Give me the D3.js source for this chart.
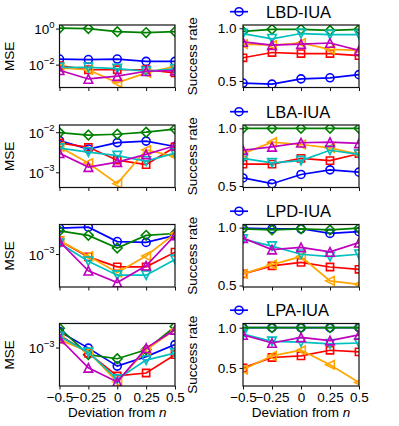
<!DOCTYPE html>
<html>
<head>
<meta charset="utf-8">
<script src="https://cdn.jsdelivr.net/npm/d3@7"></script>
<style>
  body { margin: 0; background: #fff; }
  text { font-family: Arial, "Liberation Sans", sans-serif; fill: #000; }
</style>
</head>
<body>
<div id="vis"></div>
<script>
// x positions (deviation from n) and tick labels
const deviations = [-0.5, -0.25, 0, 0.25, 0.5]
const xTickLabels = ["\u22120.5", "\u22120.25", "0", "0.25", "0.5"]

const methods = ["LBD-IUA", "LBA-IUA", "LPD-IUA", "LPA-IUA"]

// series order: blue circle, green diamond, red square, orange tri-left, cyan tri-down, magenta tri-up
const seriesColors = ["#0000ff", "#008000", "#ff0000", "#ffa500", "#00bfbf", "#bf00bf"]
const seriesMarkers = ["circle", "diamond", "square", "triLeft", "triDown", "triUp"]

// MSE values per method (one array per series, same order as above)
const mseLBD = [
    [0.0204, 0.0191, 0.0204, 0.0151, 0.0151],
    [1.05, 1.0, 0.676, 0.603, 0.676],
    [0.0089, 0.0052, 0.0052, 0.0052, 0.0035],
    [0.0066, 0.0052, 0.00098, 0.0035, 0.0081],
    [0.0071, 0.0071, 0.0060, 0.0043, 0.0058],
    [0.0049, 0.0016, 0.0023, 0.0043, 0.0047]
]
const mseLBA = [
    [0.0062, 0.0038, 0.0055, 0.0060, 0.0044],
    [0.0098, 0.0085, 0.0089, 0.0100, 0.0120],
    [0.0054, 0.0042, 0.0020, 0.00155, 0.0043],
    [0.0043, 0.0017, 0.00052, 0.0036, 0.0025],
    [0.0040, 0.0032, 0.0026, 0.0019, 0.0030],
    [0.0030, 0.00135, 0.0018, 0.0028, 0.0046]
]
const mseLPD = [
    [0.00195, 0.0020, 0.00138, 0.00135, 0.00162],
    [0.00182, 0.00162, 0.00117, 0.00162, 0.0017],
    [0.00141, 0.00093, 0.00072, 0.00072, 0.00105],
    [0.00141, 0.00095, 0.00062, 0.00095, 0.0017],
    [0.00132, 0.00083, 0.00058, 0.00058, 0.00087],
    [0.00138, 0.00065, 0.00048, 0.00074, 0.00162]
]
const mseLPA = [
    [0.0017, 0.00098, 0.00054, 0.00074, 0.0011],
    [0.0019, 0.00079, 0.00069, 0.00093, 0.0020],
    [0.0015, 0.00083, 0.00039, 0.00043, 0.00079],
    [0.0013, 0.00087, 0.00032, 0.00093, 0.0018],
    [0.00145, 0.00085, 0.00035, 0.00066, 0.00083],
    [0.00135, 0.00051, 0.00032, 0.00098, 0.0018]
]

// success rates per method
const succLBD = [
    [0.48, 0.47, 0.52, 0.53, 0.56],
    [0.97, 0.99, 0.99, 0.98, 0.99],
    [0.72, 0.77, 0.76, 0.76, 0.74],
    [0.85, 0.84, 0.86, 0.80, 0.79],
    [0.95, 0.90, 0.95, 0.94, 0.94],
    [0.87, 0.84, 0.85, 0.86, 0.79]
]
const succLBA = [
    [0.57, 0.52, 0.60, 0.64, 0.62],
    [1.0, 1.0, 1.0, 1.0, 1.0],
    [0.69, 0.69, 0.74, 0.72, 0.78],
    [0.78, 0.88, 0.86, 0.83, 0.775],
    [0.74, 0.70, 0.72, 0.81, 0.775],
    [0.81, 0.84, 0.875, 0.88, 0.87]
]
const succLPD = [
    [0.995, 0.99, 0.99, 0.95, 0.965],
    [0.99, 0.98, 0.99, 0.98, 0.995],
    [0.60, 0.67, 0.70, 0.66, 0.64],
    [0.60, 0.68, 0.75, 0.54, 0.51],
    [0.90, 0.84, 0.77, 0.75, 0.77],
    [0.91, 0.81, 0.83, 0.79, 0.87]
]
const succLPA = [
    [1.0, 1.0, 1.0, 1.0, 1.0],
    [1.0, 1.0, 1.0, 1.0, 1.0],
    [0.50, 0.63, 0.65, 0.72, 0.70],
    [0.48, 0.65, 0.72, 0.54, 0.32],
    [0.92, 0.83, 0.82, 0.80, 0.81],
    [0.91, 0.81, 0.88, 0.84, 0.91]
]

const mseData = [mseLBD, mseLBA, mseLPD, mseLPA]
const succData = [succLBD, succLBA, succLPD, succLPA]

// axis settings (domains)
const mseDomains = [[-3.27, 0.2], [-3.38, -1.82], [-3.369, -2.669], [-3.554, -2.654]]
const mseTicks = [[-2, 0], [-3, -2], [-3], [-3]]
const succDomains = [[0.438, 1.031], [0.487, 1.029], [0.487, 1.027], [0.276, 1.052]]
const succTicks = [0.5, 1.0]

// layout
const W = 399, H = 426
const rowTops = [25, 125, 224.5, 323.5]
const plotH = 62.5
const leftX = [59.5, 175]
const rightX = [243, 359]

const svg = d3.select("#vis").append("svg")
    .attr("width", W)
    .attr("height", H)

function markerPath(shape) {
    const p = d3.path()
    if (shape === "circle") {
        p.moveTo(4, 0); p.arc(0, 0, 4, 0, 2 * Math.PI)
    } else if (shape === "square") {
        p.rect(-3.6, -3.6, 7.2, 7.2)
    } else if (shape === "diamond") {
        p.moveTo(0, -4.8); p.lineTo(4.8, 0); p.lineTo(0, 4.8); p.lineTo(-4.8, 0); p.closePath()
    } else if (shape === "triDown") {
        p.moveTo(0, 4.3); p.lineTo(-4.3, -4.3); p.lineTo(4.3, -4.3); p.closePath()
    } else if (shape === "triUp") {
        p.moveTo(0, -4.3); p.lineTo(-4.3, 4.3); p.lineTo(4.3, 4.3); p.closePath()
    } else if (shape === "triLeft") {
        p.moveTo(-4.3, 0); p.lineTo(4.3, -4.3); p.lineTo(4.3, 4.3); p.closePath()
    }
    return p.toString()
}

function drawPanel(id, xr, top, yScale, series, yAxisGen, yLabel, showX) {
    let x = d3.scaleLinear().domain([-0.5, 0.5]).range(xr)

    svg.append("clipPath").attr("id", id)
        .append("rect")
        .attr("x", xr[0]).attr("y", top)
        .attr("width", xr[1] - xr[0]).attr("height", plotH)

    let g = svg.append("g").attr("clip-path", `url(#${id})`)

    let line = d3.line()
        .x((d, i) => x(deviations[i]))
        .y(d => yScale(d))

    series.forEach((vals, s) => {
        g.append("path")
            .datum(vals)
            .attr("fill", "none")
            .attr("stroke", seriesColors[s])
            .attr("stroke-width", 1.7)
            .attr("d", line)
        g.selectAll(null)
            .data(vals)
            .enter().append("path")
            .attr("transform", (d, i) => `translate(${x(deviations[i])},${yScale(d)})`)
            .attr("d", markerPath(seriesMarkers[s]))
            .attr("fill", "none")
            .attr("stroke", seriesColors[s])
            .attr("stroke-width", 1.6)
    })

    // frame
    svg.append("rect")
        .attr("x", xr[0]).attr("y", top)
        .attr("width", xr[1] - xr[0]).attr("height", plotH)
        .attr("fill", "none")
        .attr("stroke", "#111")
        .attr("stroke-width", 1.2)

    // y axis
    let yAxis = svg.append("g")
        .attr("transform", `translate(${xr[0]},0)`)
        .call(yAxisGen)
    yAxis.select(".domain").remove()
    yAxis.selectAll(".tick line").attr("stroke", "#111").attr("stroke-width", 1)

    // y label
    svg.append("text")
        .attr("transform", `translate(${xr[0] - 46},${top + plotH / 2}) rotate(-90)`)
        .attr("text-anchor", "middle")
        .style("font-size", "13.5px")
        .text(yLabel)

    // x axis
    let xAxisGen = d3.axisBottom(x)
        .tickValues(deviations)
        .tickSize(3.5)
        .tickPadding(3)
        .tickFormat((d, i) => showX ? xTickLabels[i] : "")
    let xAxis = svg.append("g")
        .attr("transform", `translate(0,${top + plotH})`)
        .call(xAxisGen)
    xAxis.select(".domain").remove()
    xAxis.selectAll(".tick line").attr("stroke", "#111")

    if (showX) {
        let lab = svg.append("text")
            .attr("x", (xr[0] + xr[1]) / 2)
            .attr("y", top + plotH + 31)
            .attr("text-anchor", "middle")
            .style("font-size", "13.5px")
        lab.append("tspan").text("Deviation from ")
        lab.append("tspan").style("font-style", "italic").text("n")
    }
}

methods.forEach((m, r) => {
    let top = rowTops[r]
    let showX = r === methods.length - 1

    // MSE (log scale)
    let yLog = d3.scaleLog()
        .domain(mseDomains[r].map(e => Math.pow(10, e)))
        .range([top + plotH, top])
    let logAxis = d3.axisLeft(yLog)
        .tickValues(mseTicks[r].map(e => Math.pow(10, e)))
        .tickSize(3.5)
        .tickPadding(3)
        .tickFormat("")
    drawPanel("clipL" + r, leftX, top, yLog, mseData[r], logAxis, "MSE", showX)

    // superscript tick labels
    mseTicks[r].forEach(e => {
        let t = svg.append("text")
            .attr("x", leftX[0] - 5)
            .attr("y", yLog(Math.pow(10, e)) + 5.5)
            .attr("text-anchor", "end")
            .style("font-size", "13.5px")
        t.append("tspan").text("10")
        t.append("tspan")
            .attr("dy", -6.5)
            .style("font-size", "9.5px")
            .text(e === 0 ? "0" : "\u2212" + Math.abs(e))
    })

    // success rate
    let yLin = d3.scaleLinear()
        .domain(succDomains[r])
        .range([top + plotH, top])
    let linAxis = d3.axisLeft(yLin)
        .tickValues(succTicks)
        .tickSize(3.5)
        .tickPadding(3)
        .tickFormat(d3.format(".1f"))
    drawPanel("clipR" + r, rightX, top, yLin, succData[r], linAxis, "Success rate", showX)

    // legend
    let ly = top - 13.3
    let lg = svg.append("g")
    lg.append("line")
        .attr("x1", 230).attr("x2", 248)
        .attr("y1", ly).attr("y2", ly)
        .attr("stroke", seriesColors[0])
        .attr("stroke-width", 1.7)
    lg.append("path")
        .attr("transform", `translate(239,${ly})`)
        .attr("d", markerPath("circle"))
        .attr("fill", "none")
        .attr("stroke", seriesColors[0])
        .attr("stroke-width", 1.6)
    lg.append("text")
        .attr("x", 266)
        .attr("y", ly + 6)
        .style("font-size", "16.5px")
        .text(m)
})

svg.selectAll(".tick text")
    .style("font-size", "13.5px")
    .style("font-family", "Arial, 'Liberation Sans', sans-serif")
    .attr("fill", "#000")
</script>
</body>
</html>
